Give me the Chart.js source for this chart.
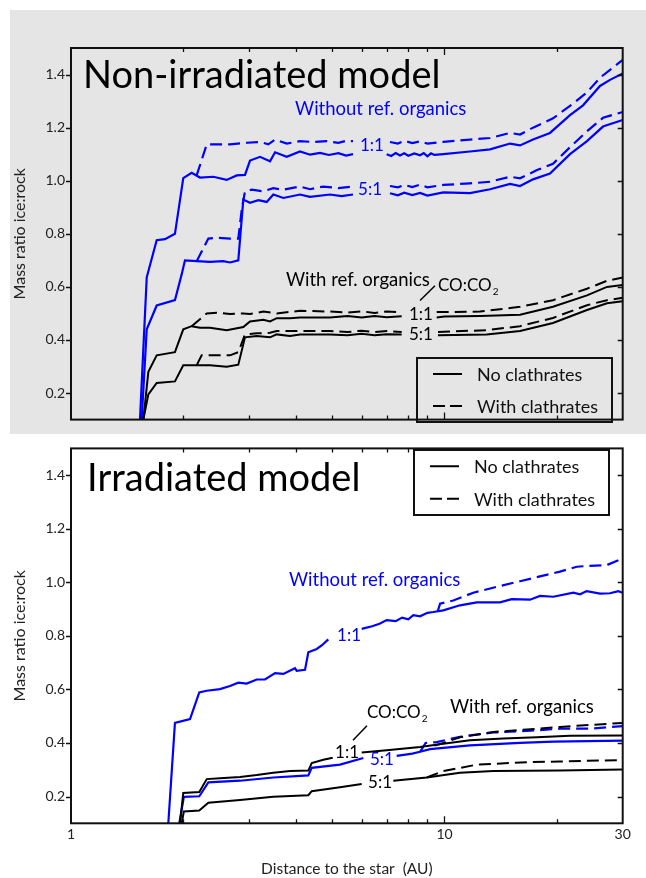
<!DOCTYPE html>
<html>
<head>
<meta charset="utf-8">
<title>Mass ratio ice:rock</title>
<script src="https://cdn.jsdelivr.net/npm/chart.js@4.4.1/dist/chart.umd.min.js"></script>
<style>
  html, body { margin: 0; padding: 0; background: #fff; }
  #page { position: relative; width: 646px; height: 878px; overflow: hidden; }
  #shade { position: absolute; left: 10px; top: 10px; width: 636px; height: 424px; background: #e5e5e5; }
  canvas { position: absolute; left: 0; }
  #top { top: 0; }
  #bottom { top: 434px; }
</style>
</head>
<body>
<div id="page">
  <div id="shade"></div>
  <canvas id="top" width="646" height="434"></canvas>
  <canvas id="bottom" width="646" height="444"></canvas>
</div>
<script>
const FONT = 'Lato, "Open Sans", sans-serif';
const BLUE = '#0000ff';
const BLACK = '#000000';

// axis ticks
const xTickValues = [1, 2, 3, 4, 5, 6, 7, 8, 9, 10, 20, 30];
const xTickLabels = [1, 10, 30];
const yTickValues = [0.2, 0.4, 0.6, 0.8, 1.0, 1.2, 1.4];

// distance (AU), mass ratio ice:rock ; null = break in the curve
// non-irradiated model, without refractory organics
const nonIrrBlue11 = [[1.53,0.10],[1.595,0.636],[1.696,0.776],[1.785,0.78],[1.898,0.80],[1.998,1.01],[2.104,1.03],[2.215,1.012],[2.404,1.015],[2.611,1.003],[2.778,1.02],[2.923,1.022],[3.015,1.076],[3.207,1.09],[3.411,1.073],[3.518,1.107],[3.781,1.09],[4.103,1.11],[4.365,1.098],[4.642,1.105],[4.9,1.097],[5.2,1.104],[5.45,1.095],[5.69,1.10],[6.3,null],[7.0,1.10],[7.2,1.093],[7.4,1.104],[7.6,1.095],[7.8,1.103],[8.0,1.094],[8.3,1.103],[8.6,1.096],[8.8,1.104],[9.0,1.092],[9.2,1.103],[9.4,1.097],[9.93,1.10],[11.7,1.11],[13.24,1.118],[14.98,1.14],[15.93,1.133],[17.26,1.155],[19.16,1.18],[21.68,1.247],[23.49,1.284],[26.08,1.357],[27.74,1.38],[30,1.404]];
const nonIrrBlue11Clath = [[2.17,1.02],[2.309,1.137],[2.455,1.137],[2.665,1.137],[2.954,1.143],[3.207,1.146],[3.375,1.137],[3.518,1.155],[3.781,1.14],[4.103,1.149],[4.446,1.146],[4.837,1.149],[5.2,1.143],[5.45,1.15],[5.69,1.149],[6.3,null],[7.145,1.146],[7.5,1.14],[7.8,1.15],[8.2,1.142],[8.6,1.148],[9.0,1.14],[9.93,1.146],[11.7,1.155],[13.24,1.161],[14.98,1.18],[15.93,1.174],[17.26,1.20],[19.52,1.235],[22.08,1.29],[24.07,1.333],[26.08,1.388],[30,1.455]];
const nonIrrBlue51 = [[1.546,0.10],[1.595,0.44],[1.696,0.53],[1.898,0.55],[1.979,0.648],[2.019,0.70],[2.17,0.697],[2.356,0.694],[2.557,0.697],[2.665,0.692],[2.805,0.70],[2.893,0.929],[3.015,0.917],[3.174,0.927],[3.342,0.92],[3.481,0.948],[3.703,0.935],[4.103,0.948],[4.365,0.939],[4.936,0.948],[5.3,0.942],[5.69,0.948],[6.3,null],[7.145,0.953],[7.5,0.945],[7.8,0.955],[8.2,0.946],[8.6,0.954],[9.0,0.944],[9.93,0.956],[11.7,0.953],[13.24,0.968],[14.98,0.988],[15.93,0.98],[17.26,1.005],[19.16,1.027],[21.68,1.10],[24.07,1.149],[26.57,1.204],[30,1.229]];
const nonIrrBlue51Clath = [[2.17,0.697],[2.332,0.782],[2.455,0.785],[2.665,0.782],[2.805,0.782],[2.864,0.89],[2.923,0.96],[3.047,0.966],[3.273,0.96],[3.481,0.972],[3.703,0.966],[4.103,0.978],[4.365,0.968],[4.737,0.978],[5.2,0.972],[5.69,0.978],[6.3,null],[7.145,0.98],[7.5,0.975],[7.8,0.984],[8.2,0.976],[8.6,0.985],[9.0,0.975],[9.93,0.984],[11.7,0.99],[13.24,0.996],[14.98,1.015],[15.93,1.009],[17.69,1.04],[19.52,1.064],[22.08,1.137],[24.07,1.186],[26.57,1.237],[30,1.259]];

// non-irradiated model, with refractory organics
const nonIrrBlack11 = [[1.562,0.10],[1.611,0.28],[1.696,0.342],[1.898,0.354],[1.998,0.44],[2.104,0.452],[2.215,0.446],[2.356,0.446],[2.611,0.437],[2.893,0.449],[3.015,0.47],[3.273,0.476],[3.411,0.47],[3.555,0.482],[3.859,0.482],[4.103,0.485],[4.936,0.485],[5.5,0.49],[6.0,0.485],[6.5,0.49],[7.0,0.486],[7.68,0.489],[8.5,null],[9.53,0.485],[10.0,0.488],[12.45,0.49],[15.93,0.495],[19.52,0.525],[24.07,0.568],[27.23,0.60],[30,0.607]];
const nonIrrBlack11Clath = [[2.104,0.452],[2.309,0.50],[2.455,0.503],[2.665,0.498],[2.893,0.50],[3.015,0.498],[3.273,0.507],[3.555,0.50],[4.103,0.51],[4.936,0.507],[5.5,0.503],[6.0,0.508],[6.5,0.502],[7.0,0.507],[7.68,0.505],[8.5,null],[9.53,0.505],[12.45,0.507],[15.93,0.525],[19.52,0.55],[24.07,0.593],[27.23,0.623],[30,0.635]];
const nonIrrBlack51 = [[1.562,0.10],[1.611,0.195],[1.696,0.238],[1.898,0.244],[1.998,0.305],[2.17,0.305],[2.356,0.305],[2.611,0.299],[2.805,0.307],[2.923,0.41],[3.143,0.415],[3.411,0.41],[3.555,0.421],[3.859,0.415],[4.103,0.421],[4.936,0.421],[5.5,0.418],[6.0,0.423],[6.5,0.418],[7.0,0.422],[7.68,0.421],[8.5,null],[9.607,0.418],[12.97,0.421],[15.93,0.434],[19.52,0.464],[24.07,0.513],[27.23,0.538],[30,0.546]];
const nonIrrBlack51Clath = [[2.17,0.305],[2.238,0.342],[2.404,0.342],[2.665,0.342],[2.805,0.354],[2.923,0.421],[3.143,0.425],[3.411,0.427],[3.555,0.434],[4.103,0.434],[4.936,0.434],[5.5,0.43],[6.0,0.435],[6.5,0.43],[7.0,0.434],[7.68,0.43],[8.5,null],[9.607,0.43],[12.97,0.437],[15.93,0.452],[19.52,0.483],[24.07,0.531],[27.23,0.55],[30,0.559]];

// irradiated model, without refractory organics
const irrBlue11 = [[1.822,0.10],[1.898,0.475],[2.083,0.489],[2.205,0.589],[2.309,0.595],[2.505,0.601],[2.665,0.613],[2.805,0.625],[2.954,0.622],[3.143,0.637],[3.307,0.637],[3.518,0.661],[3.703,0.658],[3.978,0.679],[4.02,0.669],[4.232,0.673],[4.319,0.739],[4.549,0.751],[4.7,0.765],[4.885,0.787],[5.5,null],[6.002,0.826],[6.4,0.836],[6.7,0.845],[7.002,0.859],[7.4,0.855],[7.7,0.868],[8.0,0.862],[8.251,0.877],[8.6,0.873],[9.0,0.886],[9.333,0.889],[9.926,0.895],[11.0,0.914],[12.2,0.925],[14.08,0.925],[15.13,0.937],[16.94,0.935],[18.02,0.949],[19.56,0.946],[22.13,0.961],[23.06,0.955],[24.03,0.967],[26.08,0.958],[27.74,0.959],[29.2,0.967],[30,0.961]];
const irrBlue11Clath = [[9.6,0.893],[9.73,0.92],[10.56,0.932],[11.94,0.961],[14.08,0.986],[15.93,1.004],[18.02,1.022],[20.38,1.04],[22.59,1.058],[24.03,1.061],[27.18,1.064],[29.2,1.082],[30,1.09]];
const irrBlue51 = [[1.95,0.10],[2.005,0.199],[2.205,0.201],[2.332,0.253],[2.835,0.259],[3.481,0.271],[4.319,0.279],[4.411,0.307],[5.251,0.319],[6.062,0.344],[6.6,null],[7.447,0.352],[8.2,0.36],[8.6,0.367],[9.148,0.377],[11.7,0.391],[15.93,0.40],[19.56,0.405],[30,0.409]];
const irrBlue51Clath = [[8.6,0.367],[8.9,0.40],[9.53,0.403],[11.0,0.423],[13.51,0.439],[16.6,0.445],[20.38,0.453],[25.02,0.454],[30,0.463]];

// irradiated model, with refractory organics
const irrBlack11 = [[1.958,0.10],[1.998,0.213],[2.205,0.217],[2.309,0.265],[2.505,0.268],[2.835,0.273],[3.143,0.28],[3.481,0.289],[3.859,0.295],[4.319,0.297],[4.411,0.325],[4.737,0.337],[5.019,0.345],[5.5,null],[6.002,0.364],[7.002,0.373],[8.6,0.385],[9.926,0.397],[11.7,0.41],[14.37,0.417],[17.66,0.421],[21.68,0.427],[30,0.428]];
const irrBlack11Clath = [[9.4,0.39],[9.926,0.40],[11.0,0.421],[13.51,0.441],[16.6,0.45],[20.38,0.46],[25.02,0.468],[30,0.475]];
const irrBlack51 = [[1.979,0.10],[2.005,0.144],[2.205,0.148],[2.332,0.177],[2.835,0.187],[3.481,0.199],[4.319,0.205],[4.411,0.22],[5.251,0.235],[6.002,0.247],[6.6,null],[7.293,0.259],[8.963,0.271],[11.0,0.289],[13.51,0.295],[20.38,0.297],[30,0.301]];
const irrBlack51Clath = [[8.963,0.271],[9.93,0.295],[12.2,0.319],[16.6,0.328],[20.38,0.331],[30,0.336]];

const DASH = [12, 6];

function series(points, color, dashed) {
  return {
    data: points.map(([x, y]) => ({ x, y })),
    borderColor: color,
    borderWidth: color === BLUE ? 2.2 : 2,
    borderDash: dashed ? DASH : [],
    pointRadius: 0,
    tension: 0,
    spanGaps: false
  };
}

// text placed in data coordinates (AU, ratio)
const topNotes = [
  { text: 'Non-irradiated model', x: 1.077, y: 1.349, size: 38, color: BLACK },
  { text: 'Without ref. organics', x: 3.98, y: 1.246, size: 18.5, color: BLUE },
  { text: '1:1', x: 5.94, y: 1.134, size: 17, color: BLUE, mid: true },
  { text: '5:1', x: 5.87, y: 0.967, size: 17, color: BLUE, mid: true },
  { text: 'With ref. organics', x: 3.763, y: 0.604, size: 18.5, color: BLACK },
  { text: 'CO:CO', sub: '2', x: 9.607, y: 0.585, size: 17, color: BLACK },
  { text: '1:1', x: 8.035, y: 0.497, size: 17, color: BLACK, mid: true },
  { text: '5:1', x: 8.035, y: 0.42, size: 17, color: BLACK, mid: true }
];
const topSlash = [[8.6, 0.549], [9.43, 0.604]];

const bottomNotes = [
  { text: 'Irradiated model', x: 1.104, y: 1.34, size: 38, color: BLACK },
  { text: 'Without ref. organics', x: 3.834, y: 0.987, size: 18.5, color: BLUE },
  { text: '1:1', x: 5.155, y: 0.803, size: 17, color: BLUE, mid: true },
  { text: 'CO:CO', sub: '2', x: 6.2, y: 0.493, size: 17, color: BLACK },
  { text: 'With ref. organics', x: 10.34, y: 0.511, size: 18.5, color: BLACK },
  { text: '1:1', x: 5.092, y: 0.363, size: 17, color: BLACK, mid: true },
  { text: '5:1', x: 6.318, y: 0.338, size: 17, color: BLUE, mid: true },
  { text: '5:1', x: 6.241, y: 0.252, size: 17, color: BLACK, mid: true }
];
const bottomSlash = [[5.689, 0.41], [6.2, 0.464]];

const legendRows = ['No clathrates', 'With clathrates'];

// frame, inward ticks, annotations and the line-style key
function decor(notes, slash, box) {
  return {
    id: 'decor',
    afterDatasetsDraw(chart) {
      const { ctx, chartArea: a, scales } = chart;
      const sx = scales.x, sy = scales.y;
      ctx.save();
      ctx.strokeStyle = '#111';
      ctx.lineWidth = 2;
      ctx.setLineDash([]);
      ctx.strokeRect(a.left, a.top, a.right - a.left, a.bottom - a.top);

      ctx.lineWidth = 1.3;
      ctx.beginPath();
      xTickValues.forEach(v => {
        if (v === 1 || v === 30) return;
        const px = Math.round(sx.getPixelForValue(v)) + 0.5;
        const len = v === 10 ? 7 : 4;
        ctx.moveTo(px, a.bottom); ctx.lineTo(px, a.bottom - len);
        ctx.moveTo(px, a.top); ctx.lineTo(px, a.top + len);
      });
      yTickValues.forEach(v => {
        const py = Math.round(sy.getPixelForValue(v)) + 0.5;
        ctx.moveTo(a.left - 5, py); ctx.lineTo(a.left, py);
        ctx.moveTo(a.right, py); ctx.lineTo(a.right - 5, py);
      });
      ctx.stroke();

      notes.forEach(n => {
        const px = sx.getPixelForValue(n.x);
        const py = sy.getPixelForValue(n.y);
        ctx.fillStyle = n.color;
        ctx.font = n.size + 'px ' + FONT;
        ctx.textAlign = 'left';
        ctx.textBaseline = n.mid ? 'middle' : 'alphabetic';
        ctx.fillText(n.text, px, py);
        if (n.sub) {
          const w = ctx.measureText(n.text).width;
          ctx.font = Math.round(n.size * 0.6) + 'px ' + FONT;
          ctx.fillText(n.sub, px + w + 1, py + 4);
        }
      });

      ctx.strokeStyle = BLACK;
      ctx.lineWidth = 1.5;
      ctx.beginPath();
      ctx.moveTo(sx.getPixelForValue(slash[0][0]), sy.getPixelForValue(slash[0][1]));
      ctx.lineTo(sx.getPixelForValue(slash[1][0]), sy.getPixelForValue(slash[1][1]));
      ctx.stroke();

      // key box
      if (box.fill) {
        ctx.fillStyle = box.fill;
        ctx.fillRect(box.x, box.y, box.w, box.h);
      }
      ctx.lineWidth = 2;
      ctx.strokeStyle = '#111';
      ctx.strokeRect(box.x, box.y, box.w, box.h);
      legendRows.forEach((label, i) => {
        const ry = box.y + box.h * (i === 0 ? 0.25 : 0.75);
        ctx.strokeStyle = BLACK;
        ctx.lineWidth = 2;
        ctx.setLineDash(i === 0 ? [] : [12, 5]);
        ctx.beginPath();
        ctx.moveTo(box.x + 16, ry);
        ctx.lineTo(box.x + 45, ry);
        ctx.stroke();
        ctx.setLineDash([]);
        ctx.fillStyle = '#111';
        ctx.font = '18px ' + FONT;
        ctx.textAlign = 'left';
        ctx.textBaseline = 'middle';
        ctx.fillText(label, box.x + 60, ry + 1);
      });
      ctx.restore();
    }
  };
}

function makePanel(canvas, datasets, opts) {
  return new Chart(canvas, {
    type: 'line',
    data: { datasets },
    options: {
      responsive: false,
      animation: false,
      layout: { padding: { top: opts.padTop, right: 23.3, bottom: 0, left: 0 } },
      plugins: { legend: { display: false }, tooltip: { enabled: false } },
      scales: {
        x: {
          type: 'logarithmic',
          min: 1,
          max: 30,
          afterBuildTicks: s => { s.ticks = xTickValues.map(v => ({ value: v })); },
          afterFit: s => { s.height = opts.xHeight; },
          grid: { display: false, drawTicks: false },
          border: { display: false },
          ticks: {
            display: opts.showX,
            autoSkip: false,
            maxRotation: 0,
            padding: 3,
            color: '#222',
            font: { family: FONT, size: 14 },
            callback: v => xTickLabels.includes(v) ? String(v) : ''
          },
          title: {
            display: opts.showX,
            text: 'Distance to the star  (AU)',
            color: '#222',
            font: { family: FONT, size: 15.5 },
            padding: { top: 0, bottom: 0 }
          }
        },
        y: {
          min: 0.1,
          max: 1.5,
          afterBuildTicks: s => { s.ticks = yTickValues.map(v => ({ value: v })); },
          afterFit: s => { s.width = 71; },
          grid: { display: false, drawTicks: false },
          border: { display: false },
          ticks: {
            padding: 6,
            color: '#222',
            font: { family: FONT, size: 14 },
            callback: v => v.toFixed(1)
          },
          title: {
            display: true,
            text: 'Mass ratio ice:rock',
            color: '#222',
            font: { family: FONT, size: 16 },
            padding: { top: 10.4, bottom: 0 }
          }
        }
      }
    },
    plugins: [decor(opts.notes, opts.slash, opts.box)]
  });
}

makePanel(document.getElementById('top'), [
  series(nonIrrBlack11, BLACK, false),
  series(nonIrrBlack11Clath, BLACK, true),
  series(nonIrrBlack51, BLACK, false),
  series(nonIrrBlack51Clath, BLACK, true),
  series(nonIrrBlue11, BLUE, false),
  series(nonIrrBlue11Clath, BLUE, true),
  series(nonIrrBlue51, BLUE, false),
  series(nonIrrBlue51Clath, BLUE, true)
], {
  padTop: 48, xHeight: 5.7, showX: false,
  notes: topNotes, slash: topSlash,
  box: { x: 417, y: 358, w: 195, h: 64, fill: null }
});

makePanel(document.getElementById('bottom'), [
  series(irrBlack11, BLACK, false),
  series(irrBlack11Clath, BLACK, true),
  series(irrBlack51, BLACK, false),
  series(irrBlack51Clath, BLACK, true),
  series(irrBlue11, BLUE, false),
  series(irrBlue11Clath, BLUE, true),
  series(irrBlue51, BLUE, false),
  series(irrBlue51Clath, BLUE, true)
], {
  padTop: 1.7, xHeight: 54.7, showX: true,
  notes: bottomNotes, slash: bottomSlash,
  box: { x: 414, y: 16, w: 195, h: 65, fill: '#ffffff' }
});
</script>
</body>
</html>
